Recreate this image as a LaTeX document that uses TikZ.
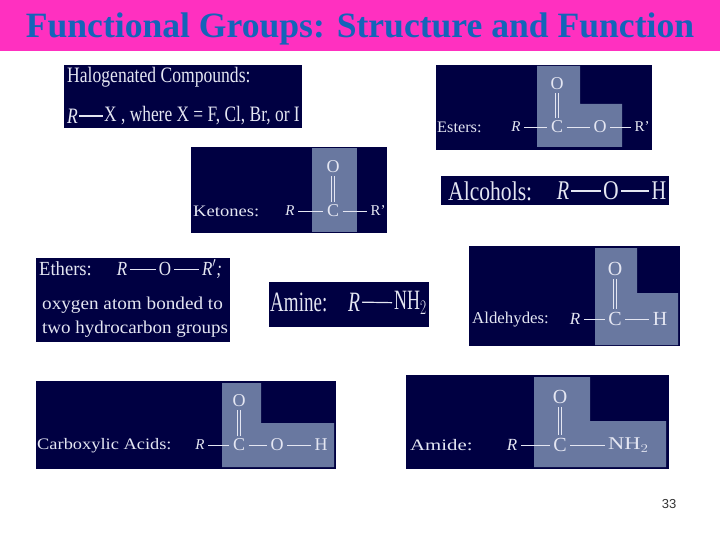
\documentclass[tikz,border=0pt]{standalone}
\usepackage{fontspec}
\setmainfont{Liberation Serif}
\setsansfont{Liberation Sans}
\usepackage{xcolor}
\definecolor{fgmagenta}{RGB}{255,48,192}
\definecolor{fgtitle}{RGB}{20,100,185}
\definecolor{fgnavy}{RGB}{0,0,66}
\definecolor{fgpatch}{RGB}{105,120,160}
\definecolor{fgtext}{RGB}{228,230,242}
\newcommand{\fgsize}[1]{\fontsize{#1}{#1}\selectfont}
\newcommand{\fgnarrow}[2][0.8]{\scalebox{#1}[1]{#2}}
\tikzset{
  panel/.style={fill=fgnavy},
  patch/.style={fill=fgpatch},
  atom/.style={text=fgtext, inner sep=2pt, font=\fgsize{18}},
  label/.style={text=fgtext, inner sep=0pt, anchor=west, font=\fgsize{16}},
  bigatom/.style={text=fgtext, inner sep=2pt, font=\fgsize{27}},
  biglabel/.style={text=fgtext, inner sep=0pt, anchor=west, font=\fgsize{25}},
  bond/.style={draw=fgtext, line width=0.9pt, shorten >=1.5pt, shorten <=1.5pt},
  dbond/.style={draw=fgtext, line width=0.7pt, double=fgpatch, double distance=2.2pt, shorten >=1pt, shorten <=1pt}
}

\begin{document}
\begin{tikzpicture}[x=1pt,y=-1pt]
\useasboundingbox (0,0) rectangle (720,540);

% Title bar
\fill[fgmagenta] (0,0) rectangle (720,51);
\node[text=fgtitle, font=\fgsize{35.6}\bfseries, inner sep=0pt, anchor=base] (title) at (360,38) {Functional Groups: Structure and Function};

% Halogenated compounds
\fill[panel] (64,65) rectangle (302,128);
\node[biglabel, font=\fgsize{22}] (halo) at (67,77) {\fgnarrow{Halogenated Compounds:}};
\node[bigatom, font=\fgsize{22}\itshape, anchor=west, inner sep=0pt] (haloR) at (67,116) {\fgnarrow{R}};
\node[biglabel, font=\fgsize{22}] (haloX) at (104,116) {\fgnarrow[0.79]{X , where X = F, Cl, Br, or I}};
\draw[bond, line width=1.2pt, shorten >=1pt, shorten <=1pt] (haloR) -- (haloX);

% Esters
\fill[panel] (436,65) rectangle (652,150);
\fill[patch] (537,66) -- (580,66) -- (580,104) -- (622,104) -- (622,147) -- (537,147) -- cycle;
\node[label] (esters) at (437,127) {\fgnarrow[1.02]{Esters:}};
\node[atom, font=\fgsize{15}\itshape] (estR) at (516,127) {R};
\node[atom] (estC) at (557,127) {C};
\node[atom] (estO) at (600,127) {O};
\node[atom, font=\fgsize{15}] (estRp) at (642,127) {R'};
\node[atom] (estOt) at (557,84) {O};
\draw[bond] (estR) -- (estC);
\draw[bond] (estC) -- (estO);
\draw[bond] (estO) -- (estRp);
\draw[dbond] (estOt) -- (estC);

% Ketones
\fill[panel] (191,147) rectangle (387,233);
\fill[patch] (312,148) rectangle (357,232);
\node[label] (ketones) at (193,211) {\fgnarrow[1.16]{Ketones:}};
\node[atom, font=\fgsize{15}\itshape] (ketR) at (290,211) {R};
\node[atom] (ketC) at (333,211) {C};
\node[atom, font=\fgsize{15}] (ketRp) at (378,211) {R'};
\node[atom] (ketO) at (333,167) {O};
\draw[bond] (ketR) -- (ketC);
\draw[bond] (ketC) -- (ketRp);
\draw[dbond] (ketO) -- (ketC);

% Alcohols
\fill[panel] (441,176) rectangle (669,205);
\node[biglabel, font=\fgsize{27}] (alcohols) at (448,191) {\fgnarrow[0.8]{Alcohols:}};
\node[bigatom, font=\fgsize{27}\itshape] (alcR) at (563,191) {\fgnarrow[0.75]{R}};
\node[bigatom] (alcO) at (611,191) {\fgnarrow[0.8]{O}};
\node[bigatom] (alcH) at (659,191) {\fgnarrow[0.75]{H}};
\draw[bond, line width=1.2pt, shorten >=0pt, shorten <=0pt] (alcR) -- (alcO);
\draw[bond, line width=1.2pt, shorten >=0pt, shorten <=0pt] (alcO) -- (alcH);

% Ethers
\fill[panel] (36,258) rectangle (230,342);
\node[label, font=\fgsize{20}] (ethers) at (39,269) {\fgnarrow[0.93]{Ethers:}};
\node[atom, font=\fgsize{20}\itshape] (ethR) at (122,269) {\fgnarrow[0.85]{R}};
\node[atom, font=\fgsize{20}] (ethO) at (165,269) {\fgnarrow[0.85]{O}};
\node[atom, font=\fgsize{20}\itshape] (ethRp) at (212,269) {\fgnarrow[0.85]{R$'$;}};
\draw[bond, shorten >=1pt, shorten <=1pt] (ethR) -- (ethO);
\draw[bond, shorten >=1pt, shorten <=1pt] (ethO) -- (ethRp);
\node[label, font=\fgsize{18}] (ethA) at (42,305) {\fgnarrow[1.066]{oxygen atom bonded to}};
\node[label, font=\fgsize{18}] (ethB) at (42,329) {\fgnarrow[1.056]{two hydrocarbon groups}};

% Amine
\fill[panel] (269,282) rectangle (429,327);
\node[biglabel, font=\fgsize{28}] (amine) at (270,302) {\fgnarrow[0.68]{Amine:}};
\node[bigatom, font=\fgsize{28}\itshape] (amiR) at (354,302) {\fgnarrow[0.7]{R}};
\node[bigatom, font=\fgsize{28}, anchor=west] (amiN) at (392,303) {\fgnarrow[0.64]{NH$_2$}};
\draw[bond, line width=1.2pt, shorten >=0pt, shorten <=0pt] (amiR) -- (amiN);

% Aldehydes
\fill[panel] (469,246) rectangle (680,346);
\fill[patch] (595,248) -- (637,248) -- (637,293) -- (678,293) -- (678,345) -- (595,345) -- cycle;
\node[label, font=\fgsize{16.5}] (aldehydes) at (472,320) {\fgnarrow[1.02]{Aldehydes:}};
\node[atom, font=\fgsize{17}\itshape] (aldR) at (575,319) {R};
\node[atom, font=\fgsize{20}] (aldC) at (615,319) {C};
\node[atom, font=\fgsize{20}] (aldH) at (660,319) {H};
\node[atom, font=\fgsize{20}] (aldO) at (615,269) {O};
\draw[bond] (aldR) -- (aldC);
\draw[bond] (aldC) -- (aldH);
\draw[dbond] (aldO) -- (aldC);

% Carboxylic acids
\fill[panel] (36,381) rectangle (336,469);
\fill[patch] (222,383) -- (261,383) -- (261,423) -- (334,423) -- (334,467) -- (222,467) -- cycle;
\node[label] (carboxylic) at (37,446) {\fgnarrow[1.15]{Carboxylic Acids:}};
\node[atom, font=\fgsize{15}\itshape] (carR) at (200,445) {R};
\node[atom] (carC) at (239,445) {C};
\node[atom] (carO) at (277,445) {O};
\node[atom] (carH) at (321,445) {H};
\node[atom] (carOt) at (239,401) {O};
\draw[bond] (carR) -- (carC);
\draw[bond] (carC) -- (carO);
\draw[bond] (carO) -- (carH);
\draw[dbond] (carOt) -- (carC);

% Amide
\fill[panel] (406,375) rectangle (669,469);
\fill[patch] (534,377) -- (590,377) -- (590,421) -- (666,421) -- (666,467) -- (534,467) -- cycle;
\node[label] (amide) at (410,445) {\fgnarrow[1.3]{Amide:}};
\node[atom, font=\fgsize{17}\itshape] (amdR) at (512,445) {R};
\node[atom, font=\fgsize{20}] (amdC) at (560,445) {C};
\node[atom, font=\fgsize{18}, anchor=west] (amdN) at (606,445) {\fgnarrow[1.25]{NH$_2$}};
\node[atom, font=\fgsize{20}] (amdO) at (560,397) {O};
\draw[bond] (amdR) -- (amdC);
\draw[bond] (amdC) -- (amdN);
\draw[dbond] (amdO) -- (amdC);

% Page number
\node[font=\sffamily\fgsize{13}, text=black!80, inner sep=0pt] (pagenum) at (669,504) {33};
\end{tikzpicture}
\end{document}
